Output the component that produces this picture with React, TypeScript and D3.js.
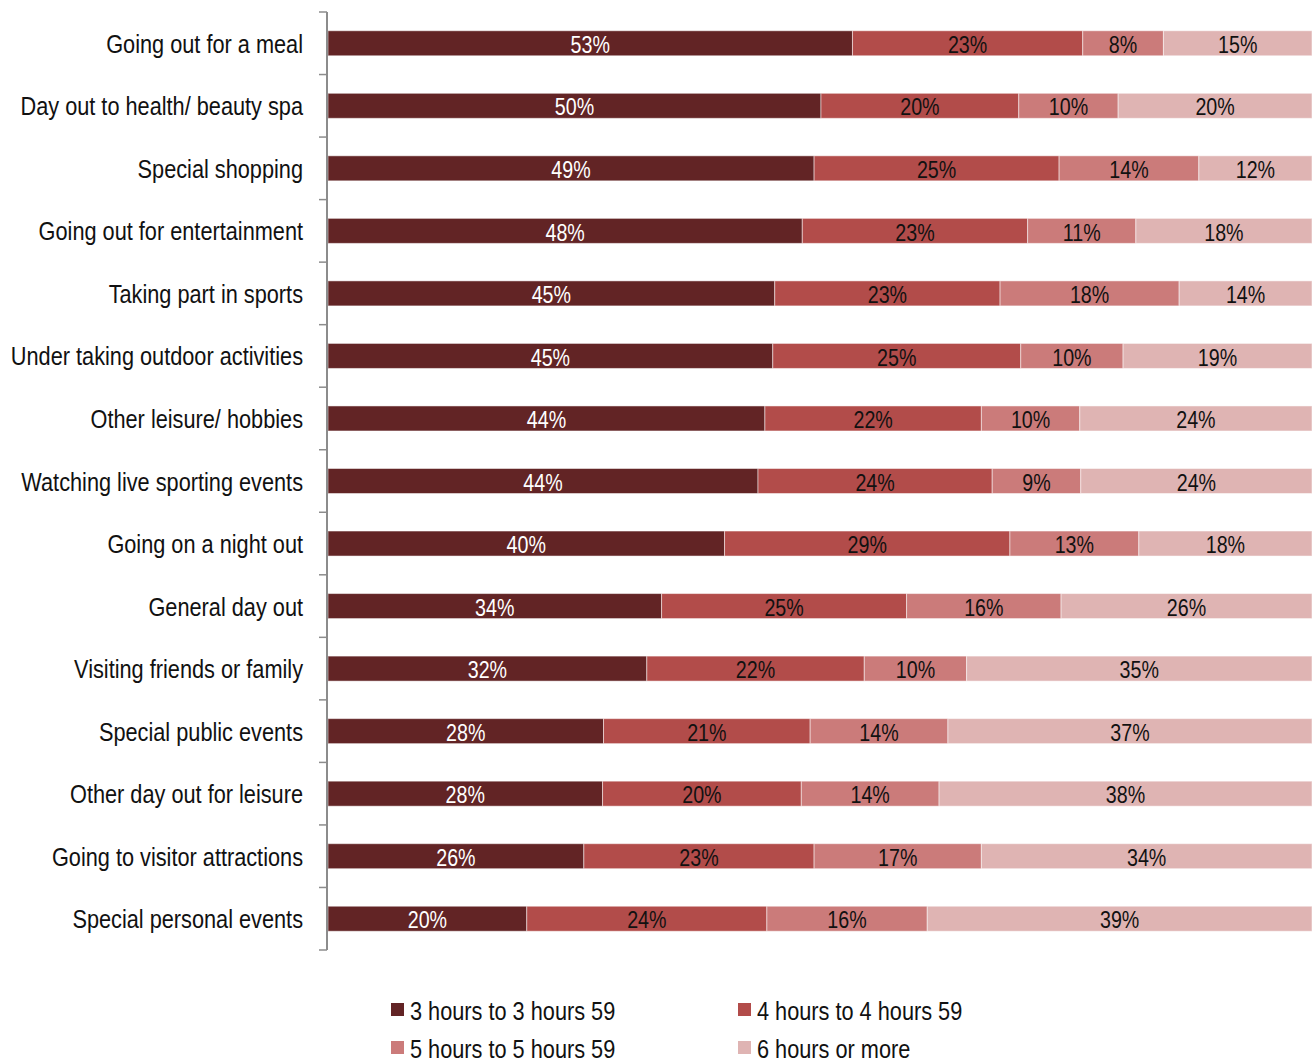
import React from "react";
import * as d3 from "d3";

const categories = [
  "Going out for a meal",
  "Day out to health/ beauty spa",
  "Special shopping",
  "Going out for entertainment",
  "Taking part in sports",
  "Under taking outdoor activities",
  "Other leisure/ hobbies",
  "Watching live sporting events",
  "Going on a night out",
  "General day out",
  "Visiting friends or family",
  "Special public events",
  "Other day out for leisure",
  "Going to visitor attractions",
  "Special personal events",
];

const seriesNames = [
  "3 hours to 3 hours 59",
  "4 hours to 4 hours 59",
  "5 hours to 5 hours 59",
  "6 hours or more",
];

const h3 = [53.3, 50.1, 49.4, 48.2, 45.4, 45.2, 44.4, 43.7, 40.3, 33.9, 32.4, 28.0, 27.9, 26.0, 20.2];
const h4 = [23.4, 20.1, 24.9, 22.9, 22.9, 25.2, 22.0, 23.8, 29.0, 24.9, 22.1, 21.0, 20.2, 23.4, 24.4];
const h5 = [8.2, 10.1, 14.2, 11.0, 18.2, 10.4, 10.0, 9.0, 13.1, 15.7, 10.4, 14.0, 14.0, 17.0, 16.3];
const h6 = [15.1, 19.7, 11.5, 17.9, 13.5, 19.2, 23.6, 23.5, 17.6, 25.5, 35.1, 37.0, 37.9, 33.6, 39.1];

const colors = ["#622425", "#B24C4A", "#CB7B7A", "#DFB4B3"];
const labelColors = ["#ffffff", "#111111", "#111111", "#111111"];

const FONT = "'Liberation Sans', Arial, sans-serif";
const NARROW = 0.82;

function NText(props: {
  x: number;
  y: number;
  size: number;
  anchor?: string;
  fill?: string;
  children: React.ReactNode;
}) {
  return (
    <text
      transform={`translate(${props.x},${props.y}) scale(${NARROW},1)`}
      dy="0.36em"
      textAnchor={props.anchor || "start"}
      fontSize={props.size}
      fill={props.fill || "#111"}
    >
      {props.children}
    </text>
  );
}

export default function App() {
  const W = 1312;
  const H = 1059;
  const left = 328;
  const right = 1312;
  const top = 12;
  const bottom = 950;

  const rows = categories.map((c, i) => ({
    cat: c,
    s0: h3[i],
    s1: h4[i],
    s2: h5[i],
    s3: h6[i],
  }));
  const keys = ["s0", "s1", "s2", "s3"];
  const stacked = d3.stack<any>().keys(keys).offset(d3.stackOffsetExpand)(rows);

  const x = d3.scaleLinear().domain([0, 1]).range([left, right]);
  const y = d3.scaleBand().domain(categories).range([top, bottom]).paddingInner(0.6).paddingOuter(0.3);
  const yOuter = d3.scaleBand().domain(categories).range([top, bottom]);

  const tickYs = [...categories.map((c) => yOuter(c) as number), bottom];

  const legendItems = [
    { name: seriesNames[0], x: 391, y: 1010 },
    { name: seriesNames[1], x: 738, y: 1010 },
    { name: seriesNames[2], x: 391, y: 1048 },
    { name: seriesNames[3], x: 738, y: 1048 },
  ];

  return (
    <svg width={W} height={H} style={{ display: "block", position: "absolute", left: 0, top: 0 }} fontFamily={FONT}>
      <rect width={W} height={H} fill="#fff" />
      {stacked.map((layer, si) => (
        <g key={si}>
          {layer.map((d, i) => {
            const x0 = x(d[0]);
            const x1 = x(d[1]);
            const yy = y(categories[i]) as number;
            const raw = (rows[i] as any)[keys[si]] as number;
            return (
              <g key={i}>
                <rect
                  x={x0}
                  y={yy}
                  width={x1 - x0}
                  height={y.bandwidth()}
                  fill={colors[si]}
                  stroke="#ffffff"
                  strokeOpacity={0.5}
                  strokeWidth={1}
                />
                <NText x={(x0 + x1) / 2} y={yy + y.bandwidth() / 2 + 1} size={24} anchor="middle" fill={labelColors[si]}>
                  {Math.round(raw)}%
                </NText>
              </g>
            );
          })}
        </g>
      ))}
      <line x1={327} x2={327} y1={top} y2={bottom} stroke="#8c8c8c" strokeWidth={2} />
      {tickYs.map((t, i) => (
        <line key={i} x1={319} x2={327} y1={t} y2={t} stroke="#8c8c8c" strokeWidth={1.5} />
      ))}
      {categories.map((c) => (
        <NText key={c} x={303} y={(yOuter(c) as number) + yOuter.bandwidth() / 2} size={26.5} anchor="end">
          {c}
        </NText>
      ))}
      {legendItems.map((l, i) => (
        <g key={i}>
          <rect x={l.x} y={l.y - 7} width={13} height={13} fill={colors[i]} />
          <NText x={l.x + 19} y={l.y} size={26.5}>
            {l.name}
          </NText>
        </g>
      ))}
    </svg>
  );
}
